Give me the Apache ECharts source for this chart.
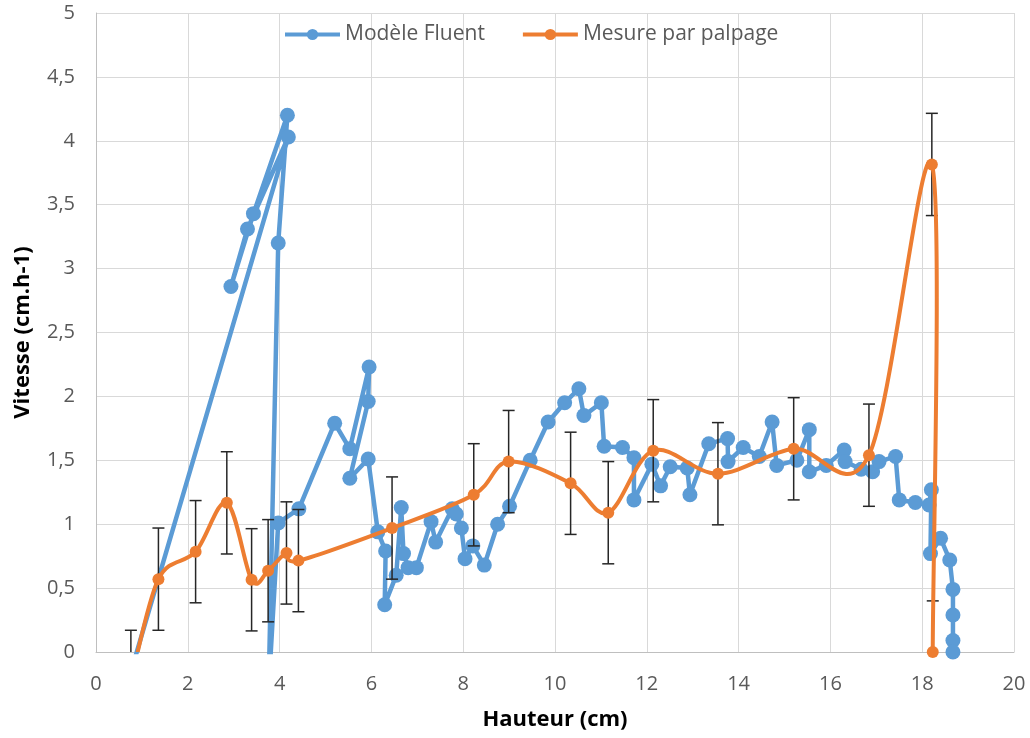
<!DOCTYPE html>
<html>
<head>
<meta charset="utf-8">
<script src="https://cdn.jsdelivr.net/npm/echarts@6/dist/echarts.min.js"></script>
<style>
html,body{margin:0;padding:0;background:#fff;}
#chart{width:1030px;height:738px;}
</style>
</head>
<body>
<div id="chart"></div>
<script>
// ---- Data ----
const seriesNames = ['Modèle Fluent', 'Mesure par palpage'];

// Modèle Fluent: points in drawing order (the path is not sorted by x)
const fluentX = [0.70, 4.19, 3.30, 2.94, 3.43, 4.17, 3.97, 3.76, 3.97, 4.42,
  5.20, 5.53, 5.95, 5.93, 5.53, 5.93, 6.14, 6.31, 6.29, 6.54,
  6.65, 6.70, 6.80, 6.98, 7.30, 7.40, 7.76, 7.85, 7.96, 8.04,
  8.21, 8.46, 8.75, 9.01, 9.46, 9.85, 10.21, 10.52, 10.63, 11.01,
  11.07, 11.47, 11.72, 11.72, 12.11, 12.30, 12.51, 12.88, 12.94, 13.35,
  13.76, 13.77, 14.10, 14.45, 14.73, 14.83, 15.27, 15.54, 15.54, 15.91,
  16.30, 16.32, 16.67, 16.92, 17.06, 17.42, 17.50, 17.85, 18.15, 18.20,
  18.18, 18.40, 18.60, 18.67, 18.67, 18.67, 18.67];
const fluentY = [-0.23, 4.03, 3.31, 2.86, 3.43, 4.20, 3.20, -0.30, 1.01, 1.12,
  1.79, 1.59, 2.23, 1.96, 1.36, 1.51, 0.94, 0.79, 0.37, 0.60,
  1.13, 0.77, 0.66, 0.66, 1.02, 0.86, 1.12, 1.08, 0.97, 0.73,
  0.83, 0.68, 1.00, 1.14, 1.50, 1.80, 1.95, 2.06, 1.85, 1.95,
  1.61, 1.60, 1.52, 1.19, 1.47, 1.30, 1.45, 1.44, 1.23, 1.63,
  1.67, 1.49, 1.60, 1.53, 1.80, 1.46, 1.50, 1.74, 1.41, 1.46,
  1.58, 1.49, 1.43, 1.41, 1.49, 1.53, 1.19, 1.17, 1.15, 1.27,
  0.77, 0.89, 0.72, 0.49, 0.29, 0.09, 0.00];

// Mesure par palpage: values and error (±)
const palpageX = [0.76, 1.36, 2.17, 2.85, 3.39, 3.75, 4.15, 4.41, 6.45, 8.23,
  8.99, 10.34, 11.16, 12.14, 13.55, 15.20, 16.84, 18.21, 18.23];
const palpageY = [-0.23, 0.57, 0.785, 1.167, 0.565, 0.636, 0.775, 0.715, 0.97, 1.23,
  1.49, 1.32, 1.09, 1.575, 1.395, 1.59, 1.54, 3.815, 0.00];
const palpageErr = [0.4, 0.4, 0.4, 0.4, 0.4, 0.4, 0.4, 0.4, 0.4, 0.4,
  0.4, 0.4, 0.4, 0.4, 0.4, 0.4, 0.4, 0.4, 0.4];

// Axis ticks
const xTicks = [0, 2, 4, 6, 8, 10, 12, 14, 16, 18, 20];
const yTickLabels = ['0', '0,5', '1', '1,5', '2', '2,5', '3', '3,5', '4', '4,5', '5'];
const xTitle = 'Hauteur (cm)';
const yTitle = 'Vitesse (cm.h-1)';

// ---- Chart ----
const BLUE = '#5B9BD5', ORANGE = '#ED7D31';
const FONT = 'Open Sans';
const chart = echarts.init(document.getElementById('chart'), null, {renderer: 'canvas'});

const fluentData = fluentX.map((x, i) => [x, fluentY[i]]);
const palpageData = palpageX.map((x, i) => [x, palpageY[i]]);
const errData = palpageX.map((x, i) => [x, palpageY[i] - palpageErr[i], palpageY[i] + palpageErr[i]]);

// Spreadsheet-style smoothed curve (Catmull-Rom → cubic Bézier in pixel space)
function curveSegment(params, api) {
  const i = params.dataIndex;
  const n = palpageX.length;
  if (i >= n - 1) return null;
  const P = k => {
    const j = Math.max(0, Math.min(n - 1, k));
    return api.coord([palpageX[j], palpageY[j]]);
  };
  const p0 = P(i - 1), p1 = P(i), p2 = P(i + 1), p3 = P(i + 2);
  const f = 1 / 6;
  return {
    type: 'bezierCurve',
    shape: {
      x1: p1[0], y1: p1[1], x2: p2[0], y2: p2[1],
      cpx1: p1[0] + (p2[0] - p0[0]) * f, cpy1: p1[1] + (p2[1] - p0[1]) * f,
      cpx2: p2[0] - (p3[0] - p1[0]) * f, cpy2: p2[1] - (p3[1] - p1[1]) * f
    },
    style: {stroke: ORANGE, lineWidth: 4, fill: null, lineCap: 'round'}
  };
}

const option = {
  animation: false,
  backgroundColor: '#fff',
  textStyle: {fontFamily: FONT},
  grid: {left: 96, right: 16, top: 13, bottom: 86, containLabel: false},
  legend: {
    data: [
      {name: seriesNames[0]},
      {name: seriesNames[1], lineStyle: {opacity: 1, color: ORANGE, width: 4}}
    ],
    left: 278, top: 19,
    itemWidth: 55, itemHeight: 14, itemGap: 36,
    lineStyle: {width: 4},
    textStyle: {fontFamily: FONT, fontSize: 21, color: '#595959'}
  },
  xAxis: {
    type: 'value', min: xTicks[0], max: xTicks[xTicks.length - 1], interval: 2,
    name: xTitle, nameLocation: 'middle', nameGap: 57,
    nameTextStyle: {fontFamily: FONT, fontSize: 22, fontWeight: 'bold', color: '#000'},
    axisLine: {show: true, lineStyle: {color: '#bfbfbf', width: 1}},
    axisTick: {show: false},
    axisLabel: {margin: 22, fontSize: 20, color: '#595959', fontFamily: FONT},
    splitLine: {show: true, lineStyle: {color: '#d9d9d9', width: 1}}
  },
  yAxis: {
    type: 'value', min: 0, max: 5, interval: 0.5,
    name: yTitle, nameLocation: 'middle', nameGap: 62, nameRotate: 90,
    nameTextStyle: {fontFamily: FONT, fontSize: 22, fontWeight: 'bold', color: '#000'},
    axisLine: {show: true, lineStyle: {color: '#bfbfbf', width: 1}},
    axisTick: {show: false},
    axisLabel: {
      margin: 21, fontSize: 20, color: '#595959', fontFamily: FONT,
      formatter: v => yTickLabels[Math.round(v * 2)]
    },
    splitLine: {show: true, lineStyle: {color: '#d9d9d9', width: 1}}
  },
  series: [
    {
      name: seriesNames[0], type: 'line', data: fluentData,
      symbol: 'circle', symbolSize: 15, showSymbol: true, showAllSymbol: true,
      clip: true, z: 2,
      lineStyle: {color: BLUE, width: 4.5},
      itemStyle: {color: BLUE}
    },
    {
      name: 'err', type: 'custom', data: errData, clip: true, z: 3,
      encode: {x: 0, y: [1, 2]},
      renderItem: function (params, api) {
        const lo = api.coord([api.value(0), api.value(1)]);
        const hi = api.coord([api.value(0), api.value(2)]);
        const w = 6;
        const style = {stroke: '#262626', lineWidth: 1.5};
        return {
          type: 'group',
          children: [
            {type: 'line', shape: {x1: lo[0], y1: lo[1], x2: hi[0], y2: hi[1]}, style: style},
            {type: 'line', shape: {x1: lo[0] - w, y1: lo[1], x2: lo[0] + w, y2: lo[1]}, style: style},
            {type: 'line', shape: {x1: hi[0] - w, y1: hi[1], x2: hi[0] + w, y2: hi[1]}, style: style}
          ]
        };
      }
    },
    {
      name: 'curve', type: 'custom', data: palpageData, clip: true, z: 4,
      encode: {x: 0, y: 1},
      renderItem: curveSegment
    },
    {
      name: seriesNames[1], type: 'line', data: palpageData,
      symbol: 'circle', symbolSize: 12, showSymbol: true, showAllSymbol: true,
      clip: true, z: 5,
      lineStyle: {color: ORANGE, width: 4, opacity: 0},
      itemStyle: {color: ORANGE}
    }
  ]
};
chart.setOption(option);
</script>
</body>
</html>
